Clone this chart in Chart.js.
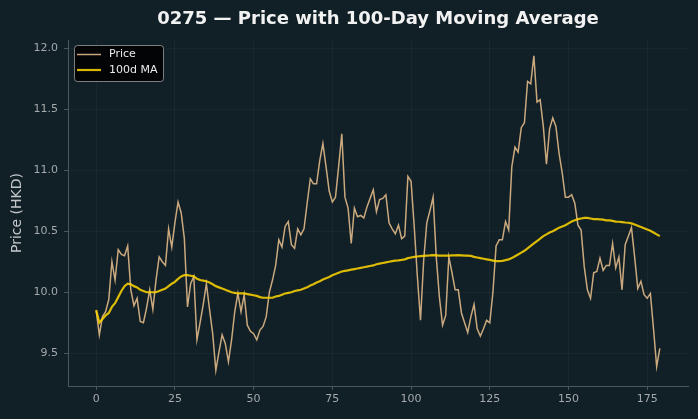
<!DOCTYPE html>
<html>
<head>
<meta charset="utf-8">
<script src="https://cdn.jsdelivr.net/npm/chart.js@4.4.1/dist/chart.umd.min.js"></script>
<style>
  html, body { margin: 0; padding: 0; background: #111f26; }
  .chart-container { width: 698px; height: 419px; }
</style>
</head>
<body>
<div class="chart-container"><canvas id="chart"></canvas></div>
<script>
// daily close, day 0 .. 179
const price = [
  9.85, 9.65, 9.80, 9.84, 9.94, 10.25, 10.10, 10.35, 10.31, 10.30,
  10.38, 10.02, 9.89, 9.95, 9.76, 9.75, 9.87, 10.02, 9.86, 10.10,
  10.29, 10.25, 10.22, 10.52, 10.37, 10.57, 10.74, 10.65, 10.44, 9.88,
  10.07, 10.13, 9.61, 9.75, 9.90, 10.07, 9.86, 9.66, 9.36, 9.51,
  9.65, 9.58, 9.43, 9.61, 9.84, 9.99, 9.84, 9.98, 9.73, 9.68,
  9.66, 9.61, 9.69, 9.72, 9.80, 10.00, 10.10, 10.22, 10.43, 10.37,
  10.54, 10.58, 10.39, 10.36, 10.52, 10.47, 10.52, 10.73, 10.93, 10.89,
  10.89, 11.08, 11.22, 11.03, 10.83, 10.74, 10.78, 11.03, 11.30, 10.78,
  10.69, 10.40, 10.69, 10.62, 10.63, 10.61, 10.70, 10.77, 10.84, 10.66,
  10.76, 10.77, 10.80, 10.57, 10.52, 10.48, 10.55, 10.44, 10.46, 10.95,
  10.91, 10.54, 10.13, 9.77, 10.26, 10.57, 10.67, 10.78, 10.29, 9.96,
  9.73, 9.81, 10.29, 10.16, 10.02, 10.02, 9.83, 9.75, 9.67, 9.80,
  9.90, 9.70, 9.64, 9.70, 9.77, 9.75, 10.00, 10.38, 10.43, 10.43,
  10.58, 10.51, 11.03, 11.19, 11.15, 11.35, 11.39, 11.73, 11.71, 11.94,
  11.56, 11.58, 11.36, 11.05, 11.34, 11.43, 11.36, 11.14, 10.98, 10.78,
  10.78, 10.80, 10.73, 10.55, 10.51, 10.21, 10.02, 9.95, 10.16, 10.17,
  10.28, 10.18, 10.22, 10.22, 10.40, 10.20, 10.29, 10.02, 10.39, 10.46,
  10.53, 10.29, 10.03, 10.09, 9.98, 9.95, 9.99, 9.70, 9.39, 9.54
];

// 100-day moving average as plotted
const ma100 = [
  9.855, 9.75, 9.78, 9.81, 9.83, 9.88, 9.91, 9.96, 10.01, 10.05,
  10.07, 10.065, 10.05, 10.04, 10.02, 10.01, 10.00, 10.00, 10.00, 10.00,
  10.01, 10.02, 10.03, 10.05, 10.07, 10.085, 10.11, 10.13, 10.14, 10.14,
  10.135, 10.13, 10.11, 10.10, 10.095, 10.09, 10.08, 10.065, 10.05, 10.04,
  10.03, 10.02, 10.01, 10.00, 9.995, 9.99, 9.99, 9.99, 9.985, 9.98,
  9.975, 9.97, 9.96, 9.955, 9.955, 9.955, 9.955, 9.965, 9.97, 9.98,
  9.99, 9.995, 10.00, 10.01, 10.015, 10.02, 10.03, 10.04, 10.055, 10.065,
  10.08, 10.09, 10.105, 10.115, 10.125, 10.14, 10.15, 10.16, 10.17, 10.175,
  10.18, 10.185, 10.19, 10.195, 10.20, 10.205, 10.21, 10.215, 10.22, 10.23,
  10.235, 10.24, 10.245, 10.25, 10.255, 10.26, 10.262, 10.265, 10.27, 10.28,
  10.285, 10.29, 10.293, 10.296, 10.298, 10.30, 10.302, 10.305, 10.303, 10.30,
  10.30, 10.30, 10.30, 10.302, 10.303, 10.305, 10.303, 10.30, 10.30, 10.298,
  10.29, 10.285, 10.28, 10.275, 10.27, 10.265, 10.26, 10.255, 10.255, 10.258,
  10.263, 10.27, 10.28, 10.295, 10.31, 10.325, 10.34, 10.36, 10.38, 10.40,
  10.42, 10.44, 10.46, 10.475, 10.49, 10.50, 10.515, 10.53, 10.54, 10.55,
  10.565, 10.58, 10.59, 10.60, 10.605, 10.61, 10.61, 10.605, 10.60, 10.60,
  10.598, 10.595, 10.59, 10.59, 10.585, 10.58, 10.578, 10.575, 10.572, 10.57,
  10.565, 10.555, 10.545, 10.535, 10.525, 10.515, 10.505, 10.49, 10.475, 10.46
];

const xTicks = [0, 25, 50, 75, 100, 125, 150, 175];
const yTicks = [9.5, 10.0, 10.5, 11.0, 11.5, 12.0];

const priceColor = 'rgba(222, 184, 135, 0.9)';
const maColor = 'rgba(255, 215, 0, 0.85)';
const gridColor = 'rgba(255, 255, 255, 0.035)';
const spineColor = '#4b575c';
const tickText = '#a3a9ac';
const font = '"DejaVu Sans", "Liberation Sans", sans-serif';

// matplotlib style legend box in the upper left of the plot
const legendBox = {
  id: 'legendBox',
  afterDraw(chart) {
    const ctx = chart.ctx;
    const area = chart.chartArea;
    const x = area.left + 6, y = area.top + 5, w = 89, h = 36;
    ctx.save();
    ctx.beginPath();
    ctx.roundRect(x + 0.5, y + 0.5, w, h, 3);
    ctx.fillStyle = 'rgba(0, 0, 0, 0.85)';
    ctx.fill();
    ctx.strokeStyle = 'rgba(200, 200, 200, 0.6)';
    ctx.lineWidth = 1;
    ctx.stroke();

    const items = [
      { text: 'Price', color: priceColor, width: 1.5 },
      { text: '100d MA', color: maColor, width: 2.2 }
    ];
    ctx.font = '11px ' + font;
    ctx.textBaseline = 'middle';
    items.forEach((it, i) => {
      const ly = y + 9.5 + i * 15.5;
      ctx.beginPath();
      ctx.moveTo(x + 3, ly);
      ctx.lineTo(x + 27, ly);
      ctx.strokeStyle = it.color;
      ctx.lineWidth = it.width;
      ctx.stroke();
      ctx.fillStyle = '#e8eaeb';
      ctx.fillText(it.text, x + 35, ly);
    });
    ctx.restore();
  }
};

const config = {
  type: 'line',
  data: {
    datasets: [
      {
        label: 'Price',
        data: price.map((v, i) => ({ x: i, y: v })),
        borderColor: priceColor,
        borderWidth: 1.5,
        pointRadius: 0,
        order: 1
      },
      {
        label: '100d MA',
        data: ma100.map((v, i) => ({ x: i, y: v })),
        borderColor: maColor,
        borderWidth: 2.2,
        pointRadius: 0,
        order: 0
      }
    ]
  },
  options: {
    responsive: true,
    maintainAspectRatio: false,
    animation: false,
    layout: { padding: { right: 10 } },
    plugins: {
      legend: { display: false },
      tooltip: { enabled: false },
      title: {
        display: true,
        text: '0275 — Price with 100-Day Moving Average',
        fullSize: false,
        color: '#f2f2f2',
        font: { family: font, size: 18, weight: 'bold', lineHeight: 1.2 },
        padding: { top: 8.5, bottom: 9.9 }
      }
    },
    scales: {
      x: {
        type: 'linear',
        min: -8.95,
        max: 187.95,
        afterFit: s => { s.height = 33; },
        afterBuildTicks: s => { s.ticks = xTicks.map(v => ({ value: v })); },
        grid: { color: gridColor, tickColor: spineColor, tickLength: 4 },
        border: { display: true, color: spineColor },
        ticks: {
          color: tickText,
          padding: 3,
          maxRotation: 0,
          font: { family: font, size: 11 },
          callback: v => String(v)
        }
      },
      y: {
        min: 9.231,
        max: 12.069,
        afterFit: s => { s.width = 68; },
        afterBuildTicks: s => { s.ticks = yTicks.map(v => ({ value: v })); },
        grid: { color: gridColor, tickColor: spineColor, tickLength: 4 },
        border: { display: true, color: spineColor },
        title: {
          display: true,
          text: 'Price (HKD)',
          color: '#c4c8ca',
          font: { family: font, size: 14 },
          padding: { top: 9, bottom: 0 }
        },
        ticks: {
          color: tickText,
          padding: 6,
          font: { family: font, size: 11 },
          callback: v => v.toFixed(1)
        }
      }
    }
  },
  plugins: [legendBox]
};

new Chart(document.getElementById('chart'), config);
</script>
</body>
</html>
